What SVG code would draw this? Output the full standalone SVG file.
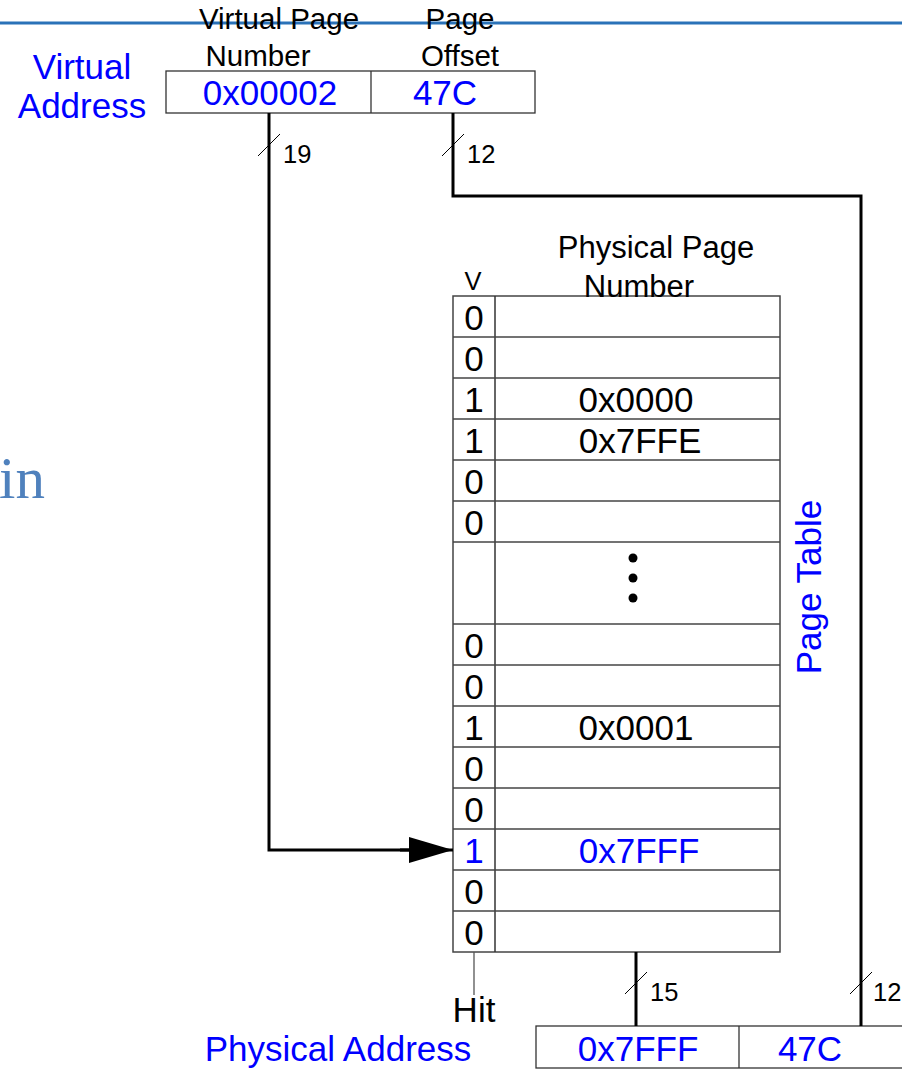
<svg xmlns="http://www.w3.org/2000/svg" width="902" height="1069" viewBox="0 0 902 1069">
<style>
text{font-family:"Liberation Sans",Arial,sans-serif;}
.blue{fill:#0000ff;}
.blk{fill:#000;}
.big{font-size:35px;}
.lbl{font-size:29.5px;}
.hdr{font-size:31px;}
.sm{font-size:25.5px;}
.mid{text-anchor:middle;}
.cell{fill:#fff;stroke:#444;stroke-width:1.5;}
.box{fill:#fff;stroke:#333;stroke-width:1.3;}
.wire{fill:none;stroke:#000;stroke-width:3;}
.slash{stroke:#000;stroke-width:1;}
</style>
<defs>
<marker id="arr" viewBox="0 0 44 26" markerWidth="44" markerHeight="26" refX="44" refY="13" orient="auto" markerUnits="userSpaceOnUse">
<path d="M0,0 L44,13 L0,26 Z" fill="#000"/>
</marker>
</defs>
<rect width="902" height="1069" fill="#fff"/>
<line x1="0" y1="23" x2="902" y2="23" stroke="#2a72b8" stroke-width="3"/>
<text x="-1" y="498" font-size="59" fill="#4f81bd" style="font-family:'Liberation Serif',serif">in</text>

<g id="virtual-address">
<text class="blue big mid" x="82" y="79">Virtual</text>
<text class="blue big mid" x="82" y="118">Address</text>
<text class="blk lbl mid" x="279" y="29">Virtual Page</text>
<text class="blk lbl mid" x="258" y="66">Number</text>
<text class="blk lbl mid" x="460" y="29">Page</text>
<text class="blk lbl mid" x="460" y="66">Offset</text>
<rect class="box" x="166" y="71" width="369" height="42"/>
<line x1="371" y1="71" x2="371" y2="113" stroke="#333" stroke-width="1.3"/>
<text class="blue big mid" x="270" y="105">0x00002</text>
<text class="blue big mid" x="445" y="105">47C</text>
</g>

<g id="page-table">
<text class="blk hdr mid" x="656" y="258">Physical Page</text>
<text class="blk sm mid" x="473" y="290">V</text>
<rect class="cell" x="453" y="296" width="327" height="656"/>
<line x1="495" y1="296" x2="495" y2="952" stroke="#333" stroke-width="1.5"/>
<g stroke="#444" stroke-width="1.5">
<line x1="453" y1="337" x2="780" y2="337"/>
<line x1="453" y1="378" x2="780" y2="378"/>
<line x1="453" y1="419" x2="780" y2="419"/>
<line x1="453" y1="460" x2="780" y2="460"/>
<line x1="453" y1="501" x2="780" y2="501"/>
<line x1="453" y1="542" x2="780" y2="542"/>
<line x1="453" y1="624" x2="780" y2="624"/>
<line x1="453" y1="665" x2="780" y2="665"/>
<line x1="453" y1="706" x2="780" y2="706"/>
<line x1="453" y1="747" x2="780" y2="747"/>
<line x1="453" y1="788" x2="780" y2="788"/>
<line x1="453" y1="829" x2="780" y2="829"/>
<line x1="453" y1="870" x2="780" y2="870"/>
<line x1="453" y1="911" x2="780" y2="911"/>
</g>
<text class="blk hdr mid" x="639" y="297">Number</text>
<g class="blk big mid">
<text x="474" y="330">0</text>
<text x="474" y="371">0</text>
<text x="474" y="412">1</text>
<text x="636" y="412">0x0000</text>
<text x="474" y="453">1</text>
<text x="640" y="453">0x7FFE</text>
<text x="474" y="494">0</text>
<text x="474" y="535">0</text>
<text x="474" y="658">0</text>
<text x="474" y="699">0</text>
<text x="474" y="740">1</text>
<text x="636" y="740">0x0001</text>
<text x="474" y="781">0</text>
<text x="474" y="822">0</text>
<text x="474" y="904">0</text>
<text x="474" y="945">0</text>
</g>
<text class="blue big mid" x="474" y="863">1</text>
<text class="blue big mid" x="639" y="863">0x7FFF</text>
<circle cx="633" cy="558" r="4.5" fill="#000"/>
<circle cx="633" cy="578" r="4.5" fill="#000"/>
<circle cx="633" cy="598" r="4.5" fill="#000"/>
<text class="blue big mid" transform="translate(821,587) rotate(-90)">Page Table</text>
</g>

<g id="physical-address">
<text class="blue big mid" x="338" y="1061">Physical Address</text>
<rect class="box" x="536" y="1026" width="380" height="42"/>
<line x1="739" y1="1026" x2="739" y2="1068" stroke="#333" stroke-width="1.3"/>
<text class="blue big mid" x="638" y="1061">0x7FFF</text>
<text class="blue big mid" x="810" y="1061">47C</text>
</g>

<g id="hit">
<line x1="474" y1="952" x2="474" y2="995" stroke="#555" stroke-width="1.3"/>
<text class="blk big mid" x="474" y="1022">Hit</text>
</g>

<g id="connectors">
<polyline class="wire" points="269,113 269,850 410,850"/>
<line x1="400" y1="850" x2="453" y2="850" stroke="#000" stroke-width="3" marker-end="url(#arr)"/>
<polyline class="wire" points="453,113 453,196 861,196 861,1026"/>
<line class="wire" x1="636" y1="952" x2="636" y2="1026"/>
<line class="slash" x1="258" y1="156" x2="280" y2="134"/>
<text class="blk sm" x="283" y="163">19</text>
<line class="slash" x1="442" y1="156" x2="464" y2="134"/>
<text class="blk sm" x="467" y="163">12</text>
<line class="slash" x1="625" y1="994" x2="647" y2="972"/>
<text class="blk sm" x="650" y="1001">15</text>
<line class="slash" x1="850" y1="994" x2="872" y2="972"/>
<text class="blk sm" x="873" y="1001">12</text>
</g>
</svg>
